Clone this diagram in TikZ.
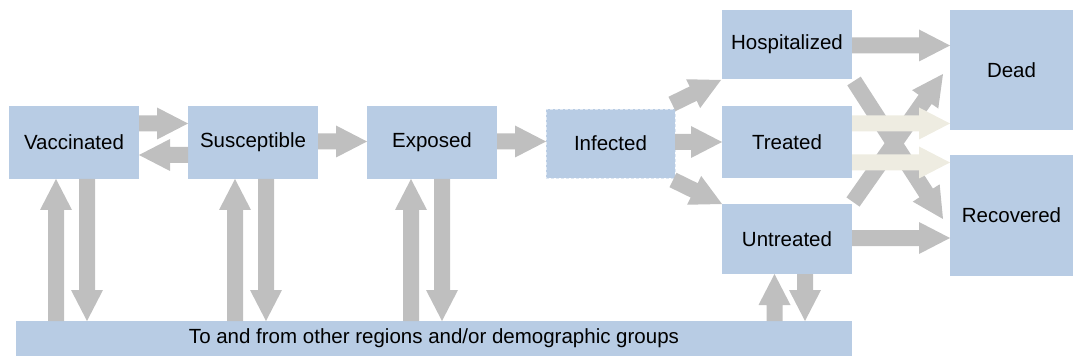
\documentclass[tikz,border=0pt]{standalone}
\usepackage{fontspec}
\setmainfont{Liberation Sans}
\usetikzlibrary{calc}
\definecolor{boxblue}{HTML}{B8CCE4}
\definecolor{arrowgray}{HTML}{BFBFBF}
\definecolor{arrowtan}{HTML}{EEECE1}
\tikzset{
  compbox/.style={fill=boxblue, draw=none, inner sep=0pt, outer sep=0pt, anchor=north west,
    font=\fontsize{20.5}{24}\selectfont, text=black},
  infbox/.style={compbox, draw=white!55!boxblue, densely dashed, line width=0.8pt},
}
% fat block arrow from #2 to #3, filled with #1
\newcommand\fatarrow[3][arrowgray]{%
  \path (#2) coordinate (fa-s) (#3) coordinate (fa-e);
  \path ($(fa-e)!31pt!(fa-s)$) coordinate (fa-c);
  \fill[#1] ($(fa-s)!8pt!90:(fa-e)$) -- ($(fa-c)!8pt!90:(fa-e)$) -- ($(fa-c)!16pt!90:(fa-e)$)
    -- (fa-e) -- ($(fa-c)!16pt!-90:(fa-e)$) -- ($(fa-c)!8pt!-90:(fa-e)$)
    -- ($(fa-s)!8pt!-90:(fa-e)$) -- cycle;
}
\begin{document}
\begin{tikzpicture}[x=1pt, y=-1pt]
\useasboundingbox (0,0) rectangle (1073,358);

% boxes
\node[compbox, minimum width=130pt, minimum height=73pt] (vac) at (9,106) {Vaccinated};
\node[compbox, minimum width=130pt, minimum height=73pt] (sus) at (188,106) {Susceptible};
\node[compbox, minimum width=130pt, minimum height=73pt] (exp) at (367,106) {Exposed};
\node[infbox, minimum width=129pt, minimum height=69pt] (inf) at (546,109) {Infected};
\node[compbox, minimum width=130pt, minimum height=69pt] (hos) at (722,10) {Hospitalized};
\node[compbox, minimum width=130pt, minimum height=72pt] (tre) at (722,106) {Treated};
\node[compbox, minimum width=130pt, minimum height=70pt] (unt) at (722,204) {Untreated};
\node[compbox, minimum width=123pt, minimum height=120pt] (dead) at (950,10) {Dead};
\node[compbox, minimum width=123pt, minimum height=121pt] (rec) at (950,155) {Recovered};
\node[compbox, minimum width=836pt, minimum height=35pt] (bar) at (16,321)
  {To and from other regions and/or demographic groups};

% horizontal flows
\fatarrow{vac.east |- 0,123.5}{sus.west |- 0,123.5}
\fatarrow{sus.west |- 0,155}{vac.east |- 0,155}
\fatarrow{sus.east |- 0,141.5}{exp.west |- 0,141.5}
\fatarrow{exp.east |- 0,141.5}{inf.west |- 0,141.5}
\fatarrow{inf.east |- 0,142}{tre.west |- 0,142}
\fatarrow{$(inf.north east)+(-3,-5)$}{$(hos.south west)+(-1,1)$}
\fatarrow{$(inf.south east)+(-2,2)$}{unt.north west}
\fatarrow{hos.east |- 0,45.5}{dead.west |- 0,45.5}
\fatarrow{unt.east |- 0,238}{rec.west |- 0,238}

% crossing flows
\fatarrow{$(hos.south east)+(2,2)$}{$(rec.north west)+(-7,64)$}
\fatarrow{$(unt.north east)+(1,-2)$}{$(dead.north west)+(-7,64)$}
\fatarrow[arrowtan]{tre.east |- 0,123.5}{dead.west |- 0,123.5}
\fatarrow[arrowtan]{tre.east |- 0,162.5}{rec.west |- 0,162.5}

% vertical flows to/from the bar
\fatarrow{56,0 |- bar.north}{56,0 |- vac.south}
\fatarrow{87,0 |- vac.south}{87,0 |- bar.north}
\fatarrow{235,0 |- bar.north}{235,0 |- sus.south}
\fatarrow{266,0 |- sus.south}{266,0 |- bar.north}
\fatarrow{411,0 |- bar.north}{411,0 |- exp.south}
\fatarrow{442,0 |- exp.south}{442,0 |- bar.north}
\fatarrow{774.5,0 |- bar.north}{774.5,0 |- unt.south}
\fatarrow{805,0 |- unt.south}{805,0 |- bar.north}
\end{tikzpicture}
\end{document}
